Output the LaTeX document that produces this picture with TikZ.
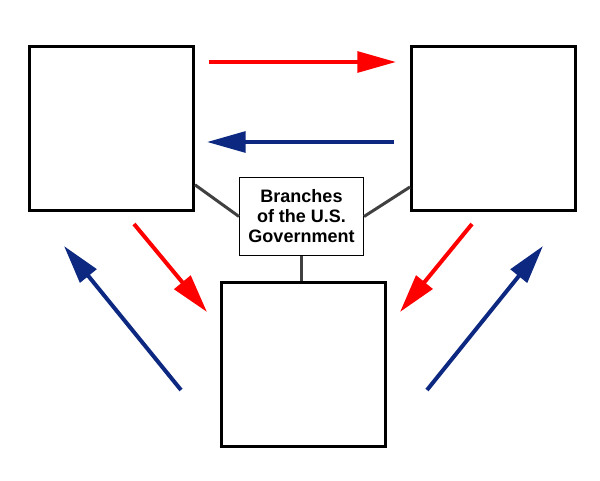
\documentclass[tikz,border=0pt]{standalone}
\usepackage{fontspec}
\setmainfont{Liberation Sans}
\usetikzlibrary{arrows.meta}
\definecolor{govred}{RGB}{255,0,0}
\definecolor{govblue}{RGB}{12,40,128}
\definecolor{linkgray}{RGB}{64,64,64}
\tikzset{
  branch/.style={draw, line width=2.25pt, minimum width=123pt, minimum height=123pt, inner sep=0pt},
  title/.style={draw, line width=0.8pt, minimum width=93pt, minimum height=59pt, align=center,
    font=\fontsize{13.5}{15}\selectfont\bfseries},
  link/.style={draw=linkgray, line width=2.25pt},
  check/.style={line width=3pt, -{Triangle[length=29pt,width=15.5pt]}},
}
\begin{document}
\begin{tikzpicture}[x=0.75pt,y=-0.75pt]
  \useasboundingbox (0,0) rectangle (600,480);
  \draw
    (111.5,128.5) node[branch] (lbox){}
    (493.5,128.5) node[branch] (rbox){}
    (303,364) node[branch] (bbox){}
    (301.5,216.5) node[title] (gov){Branches\\of the U.S.\\Government};
  \begin{scope}[link]
    \draw (lbox.-34.5) to (gov.west);
    \draw (rbox.-145) to (gov.east);
    \draw (gov.south) to (gov.south |- bbox.north);
  \end{scope}
  % arrow ends
  \coordinate (a1) at (209,62);  \coordinate (b1) at (396,62);
  \coordinate (a2) at (394,142); \coordinate (b2) at (207,142);
  \coordinate (a3) at (134,224); \coordinate (b3) at (207,312);
  \coordinate (a4) at (181,390); \coordinate (b4) at (64,246);
  \coordinate (a5) at (472,224); \coordinate (b5) at (400,312);
  \coordinate (a6) at (427,390); \coordinate (b6) at (543,246);
  \begin{scope}[check]
    \draw[govred] (a1) -- (b1);
    \draw[govblue] (a2) -- (b2);
    \draw[govred] (a3) -- (b3);
    \draw[govblue] (a4) -- (b4);
    \draw[govred] (a5) -- (b5);
    \draw[govblue] (a6) -- (b6);
  \end{scope}
\end{tikzpicture}
\end{document}
